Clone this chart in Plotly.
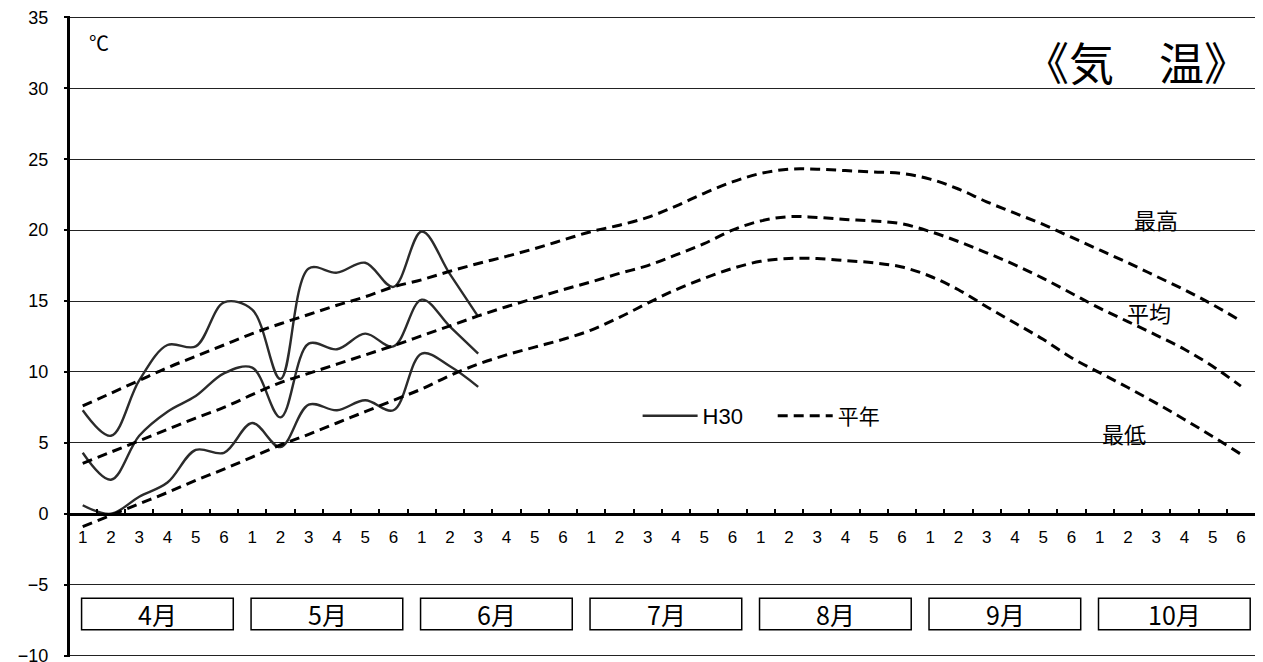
import plotly.graph_objects as go

# ---- data ----
pentad_labels = ["1", "2", "3", "4", "5", "6"] * 7
months = ["4月", "5月", "6月", "7月", "8月", "9月", "10月"]

h30_max = [7.3, 5.5, 9.4, 11.9, 11.8, 14.9, 14.4, 9.5, 17.3, 17.0, 17.7, 16.0, 19.9, 16.9, 13.9]
h30_avg = [4.3, 2.4, 5.5, 7.2, 8.3, 9.9, 10.3, 6.8, 12.0, 11.6, 12.7, 11.8, 15.1, 13.2, 11.3]
h30_min = [0.6, 0.0, 1.2, 2.2, 4.5, 4.3, 6.4, 4.7, 7.7, 7.3, 8.0, 7.3, 11.3, 10.4, 8.95]

norm_max = [7.6, 8.5, 9.4, 10.3, 11.1, 11.9, 12.7, 13.4, 14.05, 14.7, 15.3, 16.0, 16.5, 17.1,
            17.65, 18.15, 18.7, 19.3, 19.9, 20.35, 20.9, 21.7, 22.6, 23.4, 24.0, 24.3, 24.3,
            24.2, 24.1, 24.0, 23.6, 22.9, 22.0, 21.2, 20.4, 19.5, 18.6, 17.7, 16.75, 15.8,
            14.75, 13.6]
norm_avg = [3.55, 4.35, 5.15, 5.95, 6.75, 7.5, 8.4, 9.25, 9.9, 10.55, 11.2, 11.85, 12.55, 13.25,
            13.95, 14.6, 15.2, 15.8, 16.35, 16.95, 17.5, 18.25, 19.05, 20.0, 20.65, 20.95, 20.9,
            20.75, 20.65, 20.45, 19.9, 19.2, 18.4, 17.55, 16.6, 15.55, 14.5, 13.55, 12.6, 11.6,
            10.4, 9.0]
norm_min = [-0.9, -0.1, 0.7, 1.5, 2.35, 3.15, 4.0, 4.85, 5.6, 6.4, 7.2, 8.0, 8.8, 9.75, 10.55,
            11.2, 11.75, 12.3, 12.95, 13.85, 14.85, 15.8, 16.6, 17.3, 17.8, 18.0, 18.0, 17.85,
            17.7, 17.4, 16.75, 15.8, 14.6, 13.45, 12.3, 11.0, 9.95, 8.9, 7.8, 6.65, 5.45, 4.2]

series_names = ["最高", "平均", "最低"]
y_ticks = [-10, -5, 0, 5, 10, 15, 20, 25, 30, 35]

x_all = list(range(len(pentad_labels)))
x_h30 = x_all[:len(h30_max)]

FONT = "Liberation Sans, Noto Sans CJK JP, sans-serif"
JFONT = "Noto Sans CJK JP, sans-serif"

Y_LO, Y_HI = -10.1, 35.1

fig = go.Figure()

for i, ys in enumerate([h30_max, h30_avg, h30_min]):
    fig.add_trace(go.Scatter(
        x=x_h30, y=ys, mode="lines", name="H30",
        line=dict(color="#2b2b2b", width=2.4, shape="spline", smoothing=1.0),
        showlegend=(i == 0), legend="legend", hoverinfo="skip"))

for i, ys in enumerate([norm_max, norm_avg, norm_min]):
    fig.add_trace(go.Scatter(
        x=x_all, y=ys, mode="lines", name="平年",
        line=dict(color="black", width=3, dash="10px,6px", shape="spline", smoothing=1.0),
        showlegend=(i == 0), legend="legend2", hoverinfo="skip"))

# month boxes along the bottom band
shapes = []
annotations = []
for i, m in enumerate(months):
    shapes.append(dict(type="rect", xref="x", yref="y",
                       x0=6 * i - 0.04, x1=6 * i + 5.33, y0=-8.17, y1=-5.95,
                       line=dict(color="black", width=1.5), fillcolor="white", layer="above"))
    annotations.append(dict(x=6 * i + 2.65, y=-7.06, xref="x", yref="y", text=m,
                            xanchor="center", yanchor="middle", showarrow=False,
                            font=dict(family=JFONT, size=25, color="black")))

# series labels
label_pos = [(38.0, 20.8), (37.75, 14.2), (36.85, 5.7)]
for name, (lx, ly) in zip(series_names, label_pos):
    annotations.append(dict(x=lx, y=ly, xref="x", yref="y", text=name, showarrow=False,
                            xanchor="center", yanchor="middle",
                            font=dict(family=JFONT, size=22, color="black")))

annotations.append(dict(x=0.0245, y=0.958, xref="paper", yref="paper", text="℃",
                        xanchor="center", yanchor="middle", showarrow=False,
                        font=dict(family=JFONT, size=20, color="black")))
annotations.append(dict(x=0.8996, y=0.929, xref="paper", yref="paper", text="《気　温》",
                        xanchor="center", yanchor="middle", showarrow=False,
                        font=dict(family=JFONT, size=45, color="black")))

# the page body has an 8px margin, so the figure is sized/offset to compensate
fig.update_layout(
    width=1255, height=654,
    margin=dict(l=62, r=8, t=8, b=5, autoexpand=False),
    paper_bgcolor="white", plot_bgcolor="white",
    font=dict(family=FONT, color="black"),
    shapes=shapes, annotations=annotations,
    legend=dict(x=0.479, y=0.376, xanchor="left", yanchor="middle",
                orientation="h", bgcolor="rgba(0,0,0,0)", itemwidth=55,
                font=dict(family=FONT, size=22, color="black")),
    legend2=dict(x=0.593, y=0.376, xanchor="left", yanchor="middle",
                 orientation="h", bgcolor="rgba(0,0,0,0)", itemwidth=55,
                 font=dict(family=JFONT, size=21, color="black")),
    xaxis=dict(range=[-0.45, 41.5], anchor="free", position=(0 - Y_LO) / (Y_HI - Y_LO),
               showline=True, linewidth=3, linecolor="black",
               tickmode="array", tickvals=x_all, ticktext=pentad_labels,
               ticks="", showgrid=False, zeroline=False,
               tickfont=dict(size=17, color="black"), ticklabelstandoff=7,
               minor=dict(tickmode="array", tickvals=[k - 0.5 for k in x_all[1:]],
                          ticks="inside", ticklen=4, tickwidth=2, tickcolor="black",
                          showgrid=False)),
    yaxis=dict(range=[Y_LO, Y_HI], tickmode="array", tickvals=y_ticks,
               showline=True, linewidth=3, linecolor="black",
               ticks="outside", ticklen=3, tickwidth=2, tickcolor="black",
               showgrid=True, gridcolor="#222222", gridwidth=1, zeroline=False,
               tickfont=dict(size=18, color="black"), ticklabelstandoff=12,
               ticklabeloverflow="allow"),
)

fig.write_html("out.html")
